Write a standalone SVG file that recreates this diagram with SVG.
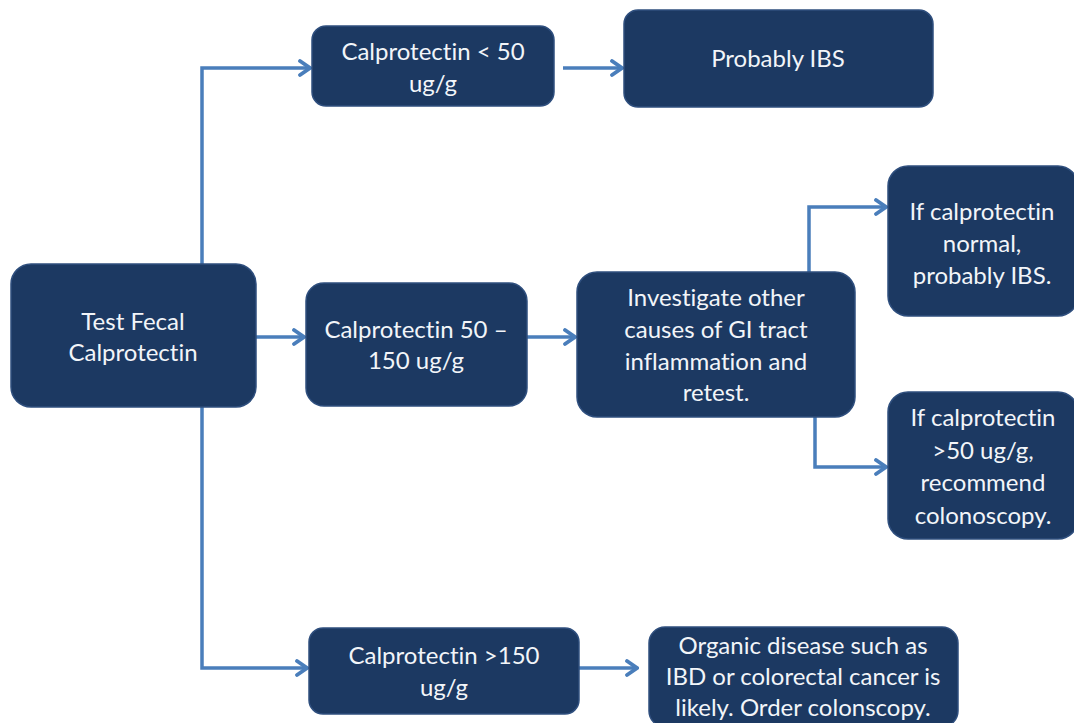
<svg xmlns="http://www.w3.org/2000/svg" width="1074" height="723" viewBox="0 0 1074 723">
<defs>
<style>
.box{fill:#1c3962;stroke:#2f4f7e;stroke-width:1.5}
.t{font-family:Lato,"Open Sans",sans-serif;font-size:24px;fill:#f2f5f9;text-anchor:middle;font-variant-ligatures:none}
.c{fill:none;stroke:#4a7ebb;stroke-width:3.5;stroke-linejoin:miter}
</style>
<marker id="ah" markerWidth="14" markerHeight="18" refX="12" refY="9" orient="auto" markerUnits="userSpaceOnUse">
<path d="M2,2 L12,9 L2,16" fill="none" stroke="#4a7ebb" stroke-width="3.8" stroke-linecap="round"/>
</marker>
</defs>
<rect width="1074" height="723" fill="#ffffff"/>
<g id="connectors">
<path class="c" d="M202,264 V68 H310" marker-end="url(#ah)"/>
<path class="c" d="M202,407 V668 H307" marker-end="url(#ah)"/>
<path class="c" d="M256,337 H304" marker-end="url(#ah)"/>
<path class="c" d="M563,68 H622" marker-end="url(#ah)"/>
<path class="c" d="M527,337 H575" marker-end="url(#ah)"/>
<path class="c" d="M809,272 V207 H886" marker-end="url(#ah)"/>
<path class="c" d="M815,417 V467 H886" marker-end="url(#ah)"/>
<path class="c" d="M579,668 H637" marker-end="url(#ah)"/>
</g>
<g id="test">
<rect class="box" x="11" y="264" width="245" height="143" rx="20"/>
<text class="t" x="133" y="330">Test Fecal</text>
<text class="t" x="133" y="361">Calprotectin</text>
</g>
<g id="lt50">
<rect class="box" x="312" y="26" width="242" height="80" rx="14"/>
<text class="t" x="433" y="60">Calprotectin &lt; 50</text>
<text class="t" x="433" y="92">ug/g</text>
</g>
<g id="ibs">
<rect class="box" x="624" y="10" width="309" height="97" rx="14"/>
<text class="t" x="778" y="67">Probably IBS</text>
</g>
<g id="mid">
<rect class="box" x="306" y="283" width="221" height="123" rx="18"/>
<text class="t" x="416" y="338">Calprotectin 50 –</text>
<text class="t" x="416" y="369">150 ug/g</text>
</g>
<g id="investigate">
<rect class="box" x="577" y="272" width="278" height="145" rx="20"/>
<text class="t" x="716" y="306">Investigate other</text>
<text class="t" x="716" y="338">causes of GI tract</text>
<text class="t" x="716" y="370">inflammation and</text>
<text class="t" x="716" y="401">retest.</text>
</g>
<g id="normal">
<rect class="box" x="888" y="166" width="190" height="150" rx="20"/>
<text class="t" x="982" y="220">If calprotectin</text>
<text class="t" x="982" y="252">normal,</text>
<text class="t" x="982" y="284">probably IBS.</text>
</g>
<g id="gt50">
<rect class="box" x="888" y="392" width="190" height="147" rx="20"/>
<text class="t" x="983" y="426">If calprotectin</text>
<text class="t" x="983" y="459">&gt;50 ug/g,</text>
<text class="t" x="983" y="491">recommend</text>
<text class="t" x="983" y="524">colonoscopy.</text>
</g>
<g id="gt150">
<rect class="box" x="309" y="628" width="270" height="86" rx="14"/>
<text class="t" x="444" y="664">Calprotectin &gt;150</text>
<text class="t" x="444" y="696">ug/g</text>
</g>
<g id="organic">
<rect class="box" x="649" y="627" width="309" height="100" rx="16"/>
<text class="t" x="803" y="654">Organic disease such as</text>
<text class="t" x="803" y="685">IBD or colorectal cancer is</text>
<text class="t" x="803" y="716">likely. Order colonscopy.</text>
</g>
</svg>
